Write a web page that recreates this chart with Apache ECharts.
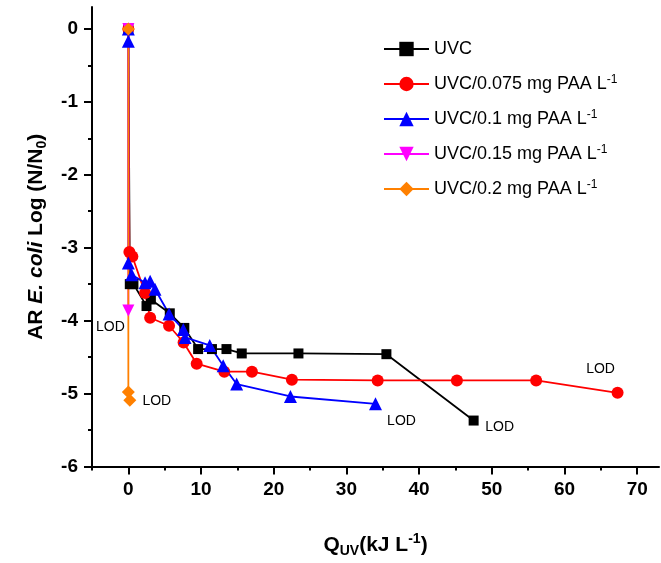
<!DOCTYPE html>
<html>
<head>
<meta charset="utf-8">
<script src="https://cdn.jsdelivr.net/npm/echarts@6/dist/echarts.min.js"></script>
<style>html,body{margin:0;padding:0;background:#fff}#c{width:661px;height:563px}</style>
</head>
<body>
<div id="c"></div>
<script>
// ---- data (x = Q_UV kJ/L, y = log N/N0) ----
const uvcX   = [0, 0.2, 0.7, 2.5, 3.1, 5.7, 7.7, 9.6, 11.5, 13.5, 15.6, 23.4, 35.5, 47.5];
const uvcY   = [0, -3.50, -3.50, -3.80, -3.71, -3.90, -4.10, -4.39, -4.39, -4.39, -4.45, -4.45, -4.46, -5.37];
const p075X  = [0, 0.14, 0.55, 2.3, 3.0, 5.6, 7.6, 9.4, 13.2, 17.0, 22.5, 34.3, 45.2, 56.1, 67.3];
const p075Y  = [0, -3.06, -3.12, -3.62, -3.96, -4.07, -4.30, -4.59, -4.70, -4.70, -4.81, -4.82, -4.82, -4.82, -4.99];
const p01X   = [0, 0, 0, 0.46, 2.3, 3.0, 3.67, 5.6, 7.56, 7.8, 11.2, 13.05, 14.9, 22.3, 34.0];
const p01Y   = [0, -0.17, -3.21, -3.37, -3.48, -3.46, -3.57, -3.91, -4.12, -4.23, -4.34, -4.62, -4.87, -5.04, -5.14];
const p015X  = [0, 0];
const p015Y  = [0, -3.86];
const p02X   = [0, 0, 0.2];
const p02Y   = [0, -4.98, -5.09];
const seriesNames = ['UVC', 'UVC/0.075 mg PAA L', 'UVC/0.1 mg PAA L', 'UVC/0.15 mg PAA L', 'UVC/0.2 mg PAA L'];
const xLabelTicks = [0, 10, 20, 30, 40, 50, 60, 70];
const xMinorTicks = [-5, 5, 15, 25, 35, 45, 55, 65];
const yLabelTicks = [-6, -5, -4, -3, -2, -1, 0];
const yMinorTicks = [-5.5, -4.5, -3.5, -2.5, -1.5, -0.5];
const lodText = 'LOD';

const FONT = '"Liberation Sans", Arial, sans-serif';
function pts(xs, ys) { return xs.map((x, i) => [x, ys[i]]); }
function lodLabel(offset) {
  return { show: true, formatter: lodText, position: 'inside', offset: offset,
           color: '#000', fontSize: 14, fontFamily: FONT };
}
function withLod(data, offset) {
  const last = data.length - 1;
  data[last] = { value: data[last], label: lodLabel(offset) };
  return data;
}

const chart = echarts.init(document.getElementById('c'));
const baseLine = (name, data, color, symbol, size) => ({
  name, type: 'line', data, xAxisIndex: 0, yAxisIndex: 0,
  symbol, symbolSize: size, showAllSymbol: true,
  lineStyle: { color, width: 1.8 }, itemStyle: { color },
  emphasis: { disabled: true }, animation: false
});

chart.setOption({
  animation: false,
  grid: { left: 92, right: 2, top: 7, bottom: 95, containLabel: false },
  legend: {
    left: 378, top: 34, orient: 'vertical',
    itemWidth: 45, itemHeight: 18, itemGap: 15,
    data: seriesNames,
    formatter: n => n === 'UVC' ? n : n + '{sup|-1}',
    textStyle: { fontFamily: FONT, fontSize: 18, color: '#000', lineHeight: 20,
      rich: { sup: { fontSize: 12, fontFamily: FONT, color: '#000', verticalAlign: 'top', lineHeight: 20 } } }
  },
  xAxis: [{
    type: 'value', min: -5, max: 73,
    name: 'Q{sub|UV}(kJ L{sup|-1})', nameLocation: 'middle', nameGap: 66,
    nameTextStyle: { fontFamily: FONT, fontSize: 21, fontWeight: 'bold', color: '#000',
      rich: { sub: { fontSize: 14, fontWeight: 'bold', fontFamily: FONT, padding: [11, 0, 0, 0] },
              sup: { fontSize: 14, fontWeight: 'bold', fontFamily: FONT, padding: [0, 0, 12, 0] } } },
    axisLine: { show: true, onZero: false, lineStyle: { color: '#000', width: 2 } },
    axisTick: { show: true, customValues: xLabelTicks, length: 8, lineStyle: { color: '#000', width: 2 } },
    axisLabel: { customValues: xLabelTicks, margin: 14, fontFamily: FONT, fontSize: 19, fontWeight: 'bold', color: '#000' },
    splitLine: { show: false }
  }, {
    type: 'value', min: -5, max: 73, position: 'bottom',
    axisLine: { show: false, onZero: false },
    axisTick: { show: true, customValues: xMinorTicks, length: 4, lineStyle: { color: '#000', width: 2 } },
    axisLabel: { show: false }, splitLine: { show: false }
  }],
  yAxis: [{
    type: 'value', min: -6, max: 0.3,
    name: 'AR {i|E. coli} Log (N/N{sub|0})', nameLocation: 'middle', nameGap: 43, nameRotate: 90,
    nameTextStyle: { fontFamily: FONT, fontSize: 21, fontWeight: 'bold', color: '#000',
      rich: { i: { fontStyle: 'italic', fontWeight: 'bold', fontSize: 21, fontFamily: FONT },
              sub: { fontSize: 14, fontWeight: 'bold', fontFamily: FONT, padding: [11, 0, 0, 0] } } },
    axisLine: { show: true, onZero: false, lineStyle: { color: '#000', width: 2 } },
    axisTick: { show: true, customValues: yLabelTicks, length: 8, lineStyle: { color: '#000', width: 2 } },
    axisLabel: { customValues: yLabelTicks, margin: 14, fontFamily: FONT, fontSize: 19, fontWeight: 'bold', color: '#000' },
    splitLine: { show: false }
  }, {
    type: 'value', min: -6, max: 0.3, position: 'left',
    axisLine: { show: false, onZero: false },
    axisTick: { show: true, customValues: yMinorTicks, length: 4, lineStyle: { color: '#000', width: 2 } },
    axisLabel: { show: false }, splitLine: { show: false }
  }],
  series: [
    baseLine(seriesNames[0], withLod(pts(uvcX, uvcY), [26, 7]), '#000000', 'rect', 10),
    baseLine(seriesNames[1], withLod(pts(p075X, p075Y), [-17, -24]), '#ff0000', 'circle', 12),
    baseLine(seriesNames[2], withLod(pts(p01X, p01Y), [26, 17]), '#0000ff', 'triangle', 13),
    baseLine(seriesNames[3], withLod(pts(p015X, p015Y), [-18, 17]), '#ff00ff', 'path://M0,0 L10,0 L5,10 Z', 12),
    baseLine(seriesNames[4], withLod(pts(p02X, p02Y), [27, 1]), '#ff8000', 'diamond', 13)
  ]
});
</script>
</body>
</html>
